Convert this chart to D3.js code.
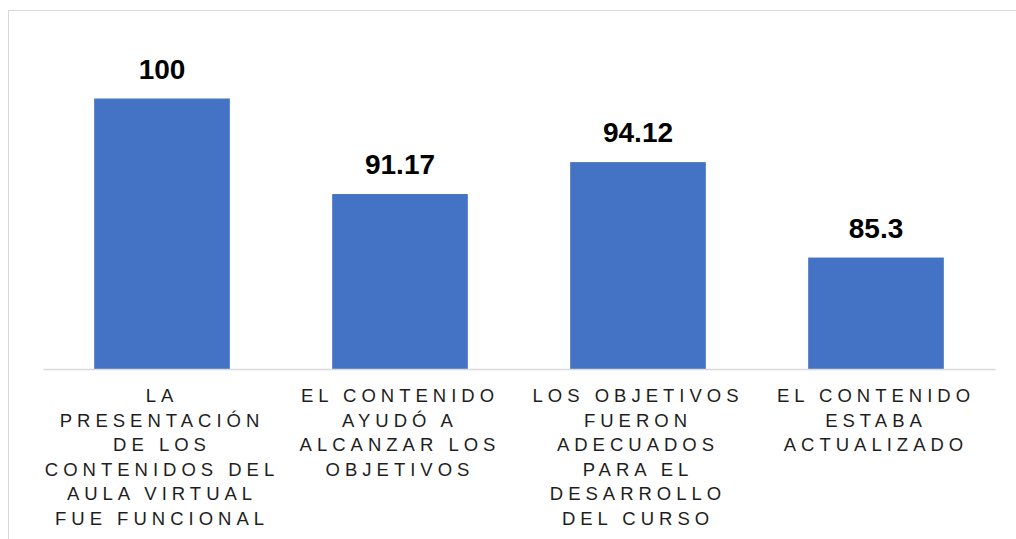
<!DOCTYPE html>
<html>
<head>
<meta charset="utf-8">
<script src="https://cdn.jsdelivr.net/npm/d3@7"></script>
<style>
  body { margin: 0; background: #fff; }
  svg { display: block; font-family: Arial, "Liberation Sans", sans-serif; }
</style>
</head>
<body>
<svg id="chart" width="1016" height="539"></svg>
<script>
// categories (wrapped like the original axis labels)
const categories = ['c1', 'c2', 'c3', 'c4'];
const labelLines = [
  ['LA', 'PRESENTACIÓN', 'DE LOS', 'CONTENIDOS DEL', 'AULA VIRTUAL', 'FUE FUNCIONAL'],
  ['EL CONTENIDO', 'AYUDÓ A', 'ALCANZAR LOS', 'OBJETIVOS'],
  ['LOS OBJETIVOS', 'FUERON', 'ADECUADOS', 'PARA EL', 'DESARROLLO', 'DEL CURSO'],
  ['EL CONTENIDO', 'ESTABA', 'ACTUALIZADO']
];
const values = [100, 91.17, 94.12, 85.3];
const valueLabels = ['100', '91.17', '94.12', '85.3'];

const svg = d3.select('#chart');

// chart frame
svg.append('rect')
  .attr('x', 8.5).attr('y', 10.5)
  .attr('width', 1020).attr('height', 540)
  .attr('fill', 'none')
  .attr('stroke', '#d9d9d9')
  .attr('stroke-width', 1);

const x = d3.scaleBand()
  .domain(categories)
  .range([43, 995])
  .paddingInner(0.43)
  .paddingOuter(0.215);

const y = d3.scaleLinear()
  .domain([75, 100])
  .range([369, 98.5]);

svg.selectAll('rect.bar')
  .data(values)
  .enter().append('rect')
    .attr('class', 'bar')
    .attr('x', (d, i) => x(categories[i]))
    .attr('width', x.bandwidth())
    .attr('y', d => y(d))
    .attr('height', d => y(75) - y(d))
    .attr('fill', '#4472c4');

// value labels
svg.selectAll('text.val')
  .data(values)
  .enter().append('text')
    .attr('class', 'val')
    .attr('x', (d, i) => x(categories[i]) + x.bandwidth() / 2)
    .attr('y', d => y(d) - 20)
    .attr('text-anchor', 'middle')
    .attr('font-size', 28)
    .attr('font-weight', 'bold')
    .attr('fill', '#000')
    .text((d, i) => valueLabels[i]);

// x axis
const xAxis = d3.axisBottom(x).tickSize(0).tickFormat('');
const gx = svg.append('g')
  .attr('transform', `translate(0,${y(75)})`)
  .call(xAxis);
gx.select('.domain').attr('stroke', '#d9d9d9').attr('stroke-width', 1.5);

gx.selectAll('.tick').each(function(d, i) {
  const t = d3.select(this).select('text')
    .attr('y', 33)
    .attr('fill', '#1e1e1e')
    .attr('font-size', 18.5)
    .attr('font-family', 'Arial, "Liberation Sans", sans-serif')
    .attr('letter-spacing', 5)
    .attr('text-anchor', 'middle')
    .text(null);
  labelLines[i].forEach((line, j) => {
    t.append('tspan')
      .attr('x', 0)
      .attr('dy', j === 0 ? 0 : 24.5)
      .text(line);
  });
});
</script>
</body>
</html>
